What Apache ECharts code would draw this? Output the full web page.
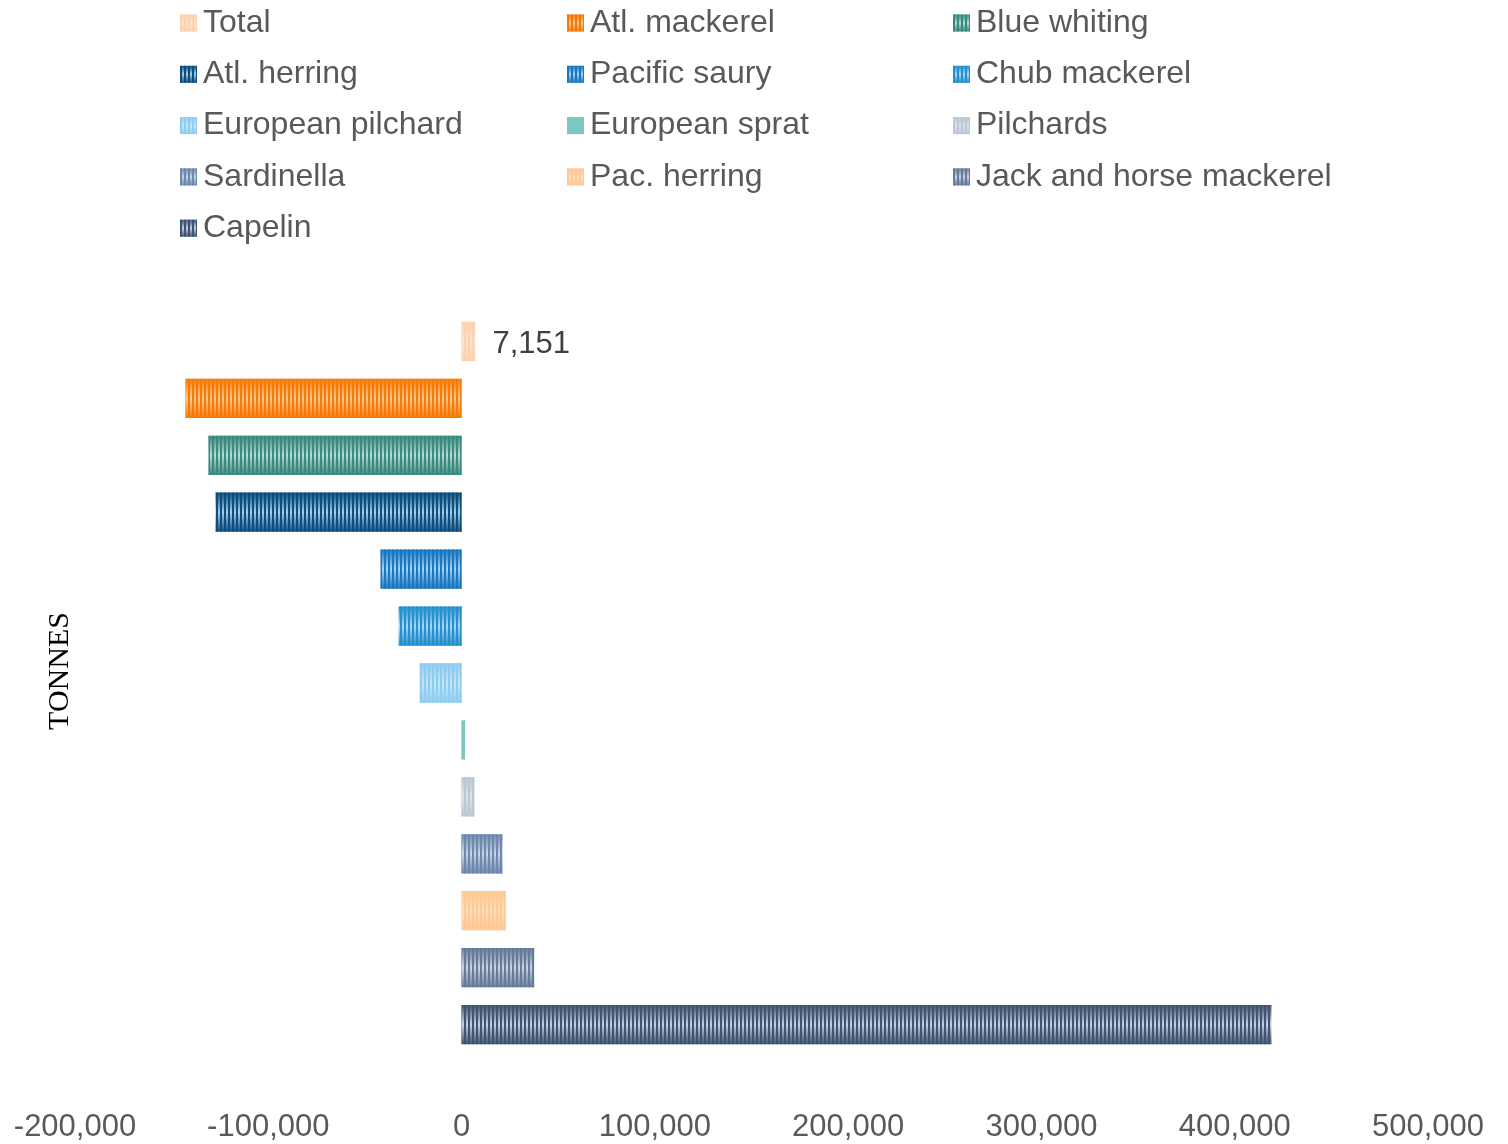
<!DOCTYPE html>
<html>
<head>
<meta charset="utf-8">
<script src="https://cdn.jsdelivr.net/npm/echarts@6/dist/echarts.min.js"></script>
<style>
  html, body { margin: 0; padding: 0; background: #ffffff; }
  #chart { width: 1508px; height: 1144px; }
</style>
</head>
<body>
<div id="chart"></div>
<script>
const categories = ['Total', 'Atl. mackerel', 'Blue whiting', 'Atl. herring', 'Pacific saury', 'Chub mackerel',
  'European pilchard', 'European sprat', 'Pilchards', 'Sardinella', 'Pac. herring', 'Jack and horse mackerel', 'Capelin'];
const values = [7151, -142800, -130900, -127300, -41900, -32600, -21700, 1800, 6700, 21200, 22800, 37600, 419000];
const stripeColors = ['#FDD2AE', '#F57A06', '#3B8A80', '#0E4E7E', '#1A78C2', '#2490D0', '#8ECDF2', '#7AC8C0',
  '#BCC6D4', '#6E88AE', '#FFC894', '#687C9A', '#3F5473'];
const lightColors = ['#FEE6D2', '#FDCB96', '#B8DDD6', '#A8D2F0', '#A8D6F4', '#AAD9F5', '#C8E8FA', '#7AC8C0',
  '#DDE3EB', '#CAD6E7', '#FFDFBD', '#CBD5E4', '#C8D2E3'];
const legendCols = [
  ['Total', 'Atl. herring', 'European pilchard', 'Sardinella', 'Capelin'],
  ['Atl. mackerel', 'Pacific saury', 'European sprat', 'Pac. herring'],
  ['Blue whiting', 'Chub mackerel', 'Pilchards', 'Jack and horse mackerel']
];
const xTicks = { min: -200000, max: 500000, interval: 100000 };

const chart = echarts.init(document.getElementById('chart'), null, { renderer: 'canvas' });

const series = categories.map((name, i) => {
  const data = categories.map((c, j) => (j === i ? values[i] : null));
  return {
    name: name,
    type: 'bar',
    stack: 'all',
    barWidth: '69%',
    data: data,
    itemStyle: {
      color: new echarts.graphic.LinearGradient(0, 0, 0, 1, [
        { offset: 0, color: stripeColors[i] },
        { offset: 0.5, color: lightColors[i] },
        { offset: 1, color: stripeColors[i] }
      ]),
      decal: {
        symbol: 'rect',
        symbolSize: 1,
        color: stripeColors[i],
        dashArrayX: [2, 2],
        dashArrayY: [1, 0],
        rotation: 0
      }
    },
    label: {
      show: i === 0,
      position: 'right',
      distance: 17,
      offset: [0, 3],
      fontSize: 31,
      fontFamily: 'Liberation Sans, Arial, sans-serif',
      color: '#404040',
      formatter: (p) => (p.value == null ? '' : p.value.toLocaleString('en-US'))
    },
    emphasis: { disabled: true }
  };
});

const legendLefts = [180, 567, 953];
const legends = legendCols.map((col, k) => ({
  orient: 'vertical',
  left: legendLefts[k],
  top: 6,
  padding: 0,
  icon: 'rect',
  data: col,
  itemWidth: 17,
  itemHeight: 17,
  itemGap: 17.3,
  textStyle: {
    fontSize: 32,
    lineHeight: 34,
    color: '#595959',
    padding: [0, 0, 0, 1],
    fontFamily: 'Liberation Sans, Arial, sans-serif'
  },
  selectedMode: false
}));

chart.setOption({
  animation: false,
  backgroundColor: '#ffffff',
  legend: legends,
  grid: { left: 75, right: 80, top: 313, bottom: 91, containLabel: false },
  xAxis: {
    type: 'value',
    min: xTicks.min,
    max: xTicks.max,
    interval: xTicks.interval,
    splitLine: { show: false },
    axisLine: { show: false },
    axisTick: { show: false },
    axisLabel: {
      fontSize: 31,
      color: '#595959',
      fontFamily: 'Liberation Sans, Arial, sans-serif',
      margin: 59,
      formatter: (v) => v.toLocaleString('en-US')
    }
  },
  yAxis: {
    type: 'category',
    data: categories,
    inverse: true,
    axisLine: { show: false },
    axisTick: { show: false },
    axisLabel: { show: false }
  },
  graphic: [{
    type: 'text',
    x: 60,
    y: 671,
    rotation: Math.PI / 2,
    style: {
      text: 'TONNES',
      fontSize: 30,
      fontFamily: 'Liberation Serif, Times New Roman, serif',
      fill: '#000000',
      align: 'center',
      verticalAlign: 'middle'
    }
  }],
  series: series
});
</script>
</body>
</html>
